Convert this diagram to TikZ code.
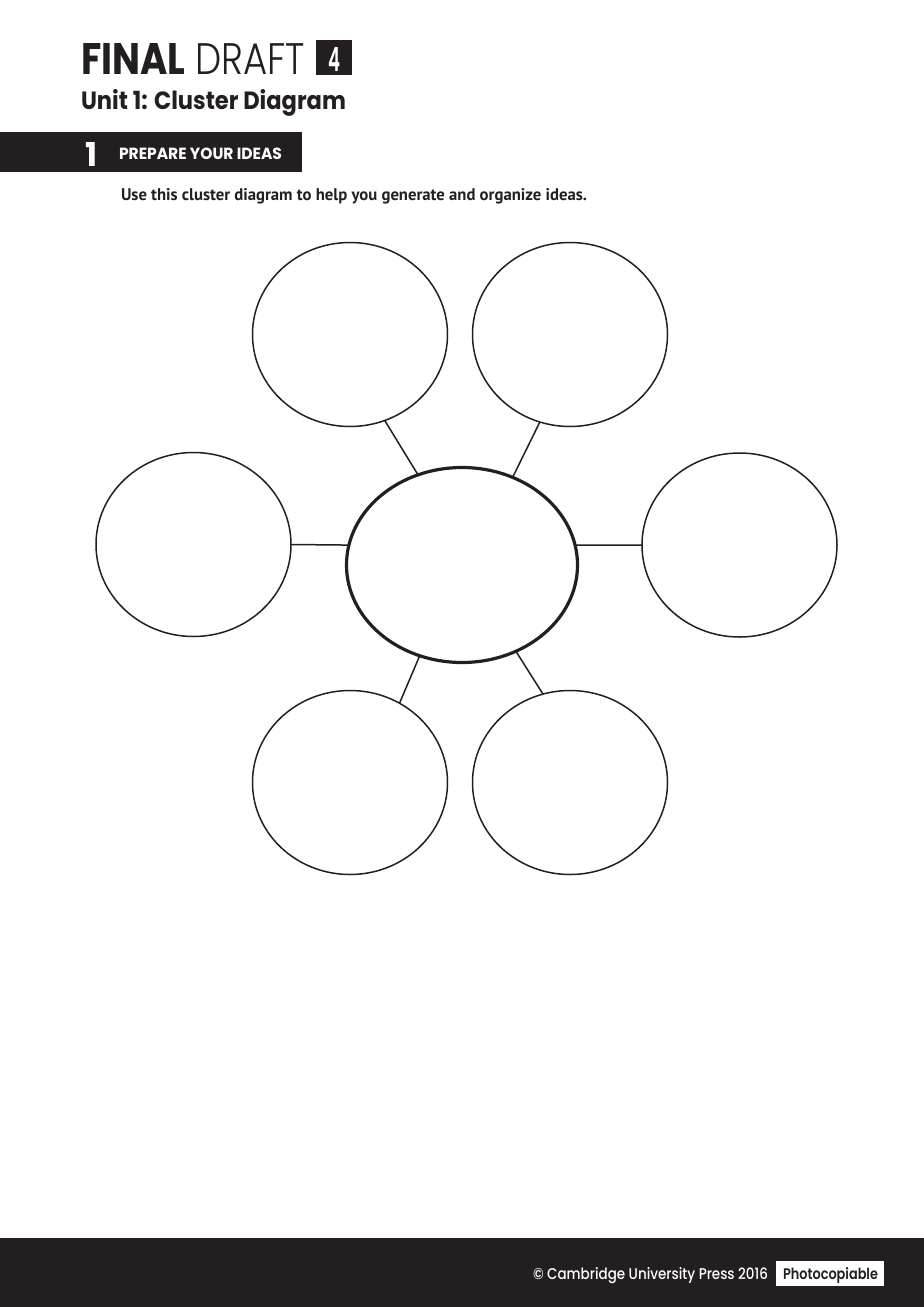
\documentclass[tikz,border=0pt]{standalone}
\usepackage{fontspec}
\setmainfont{Poppins}
\newfontfamily\popmed{Poppins Medium}
\newfontfamily\popsemi{Poppins SemiBold}
\newfontfamily\poplight{Poppins Light}
\newfontfamily\humfont{PT Sans}
\usetikzlibrary{shapes.geometric}
\definecolor{ink}{HTML}{231F20}
\newcommand{\fitto}[3]{\resizebox{#1pt}{#2pt}{#3}}
\begin{document}
\begin{tikzpicture}[x=1pt,y=-1pt,
  bubble/.style={ellipse,draw=ink,line width=1.5pt,minimum width=195pt,minimum height=184pt,inner sep=0pt,outer sep=0pt},
  hub/.style={ellipse,draw=ink,line width=3.2pt,minimum width=231pt,minimum height=195pt,inner sep=0pt,outer sep=0pt},
  link/.style={draw=ink,line width=1.5pt},
  txt/.style={anchor=base west,inner sep=0pt,outer sep=0pt},
  band/.style={fill=ink,anchor=north west,inner sep=0pt,outer sep=0pt}]
\useasboundingbox (0,0) rectangle (924,1307);
\fill[white] (0,0) rectangle (924,1307);

% header
\node[txt,text=ink] (title) at (81,74) {\fitto{224}{31}{{\bfseries FINAL}\ {\mdseries\poplight DRAFT}}};
\node[band,minimum width=36pt,minimum height=35pt] (numbox) at (316,40) {};
\node[txt,text=white] (num) at (328,71) {\fitto{12}{24}{\popsemi 4}};
\node[txt,text=ink] (unit) at (81,109) {\fitto{265}{20}{\bfseries Unit 1: Cluster Diagram}};

\node[band,minimum width=302pt,minimum height=40pt] (bar) at (0,132) {};
\node[txt,text=white] (one) at (85,166) {\fitto{12}{24}{\bfseries 1}};
\node[txt,text=white] (prep) at (119,159) {\fitto{163}{11.5}{\bfseries PREPARE YOUR IDEAS}};
\node[txt,text=ink] (instr) at (121,200) {\fitto{466}{12}{\humfont\bfseries Use this cluster diagram to help you generate and organize ideas.}};

% cluster
\node[hub] (c) at (462,565) {};
\node[bubble] (tl) at (350,334.5) {};
\node[bubble] (tr) at (570,334.5) {};
\node[bubble] (l) at (193.5,544.5) {};
\node[bubble] (r) at (739.5,545) {};
\node[bubble] (bl) at (350,782.5) {};
\node[bubble] (br) at (570,782.5) {};

\draw[link] (c.116.8) -- (tl.292.6);
\draw[link] (c.60.5) -- (tr.251.1);
\draw[link] (c.170.1) -- (l.0);
\draw[link] (c.10) -- (r.180);
\draw[link] (c.245.2) -- (bl.58.7);
\draw[link] (c.302.3) -- (br.107.7);

% footer
\node[band,minimum width=924pt,minimum height=69pt] (foot) at (0,1238) {};
\node[txt,text=white] (copy) at (533,1279) {\fitto{235}{12}{\popmed © Cambridge University Press 2016}};
\node[band,fill=white,minimum width=108pt,minimum height=25pt] (photobox) at (776,1261) {};
\node[txt,text=ink] (photo) at (783,1279) {\fitto{95}{12}{\popsemi Photocopiable}};
\end{tikzpicture}
\end{document}
